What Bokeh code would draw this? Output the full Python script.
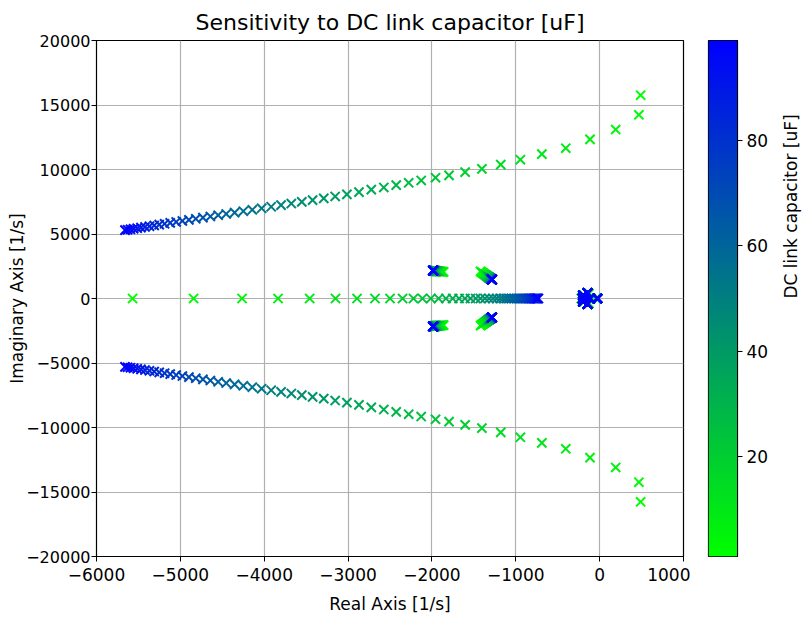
import math
import numpy as np
from bokeh.plotting import figure
from bokeh.models import (ColumnDataSource, LinearColorMapper, Range1d, FixedTicker)
from bokeh.layouts import row
from bokeh.transform import transform
from bokeh.embed import file_html
from bokeh.resources import INLINE

# ---------------- data ----------------
cap_uF = [1, 3, 5, 7, 9, 11, 13, 15, 17, 19, 21, 23, 25, 27, 29, 31, 33, 35, 37, 39,
          41, 43, 45, 47, 49, 51, 53, 55, 57, 59, 61, 63, 65, 67, 69, 71, 73, 75, 77, 79,
          81, 83, 85, 87, 89, 91, 93, 95, 97, 99]

# large complex pair (upper half; lower half is its conjugate)
upper_re = [489, 468, 191, -115, -404, -689, -945, -1179, -1404, -1604,
            -1796, -1957, -2128, -2277, -2426, -2574, -2723, -2870, -3014, -3154,
            -3290, -3423, -3552, -3677, -3799, -3917, -4031, -4142, -4249, -4353,
            -4453, -4549, -4642, -4731, -4816, -4898, -4976, -5050, -5121, -5188,
            -5252, -5312, -5368, -5421, -5470, -5515, -5557, -5595, -5629, -5660]
upper_im = [15761, 14239, 13096, 12335, 11650, 11193, 10761, 10381, 10051, 9797,
            9543, 9365, 9150, 8970, 8790, 8610, 8440, 8250, 8070, 7910,
            7764, 7626, 7492, 7362, 7235, 7112, 6994, 6878, 6767, 6659,
            6555, 6455, 6358, 6266, 6177, 6092, 6011, 5934, 5860, 5790,
            5724, 5662, 5603, 5548, 5497, 5450, 5407, 5367, 5332, 5300]

# real pole
real_re = [-5570, -4842, -4264, -3835, -3458, -3150, -2893, -2679, -2500, -2350,
           -2220, -2113, -2013, -1920, -1833, -1752, -1676, -1606, -1540, -1478,
           -1421, -1368, -1318, -1271, -1228, -1187, -1149, -1114, -1081, -1050,
           -1022, -995, -970, -947, -925, -905, -886, -868, -852, -837,
           -822, -809, -797, -785, -774, -764, -755, -746, -738, -730]

# complex pair near -2000 +/- j2100
pairA_re = [-1860, -1870, -1880, -1889, -1897, -1904, -1911, -1917, -1923, -1929,
            -1934, -1938, -1942, -1946, -1950, -1953, -1956, -1959, -1961, -1963,
            -1965, -1967, -1969, -1971, -1972, -1974, -1975, -1976, -1977, -1978,
            -1979, -1980, -1981, -1982, -1982, -1983, -1984, -1984, -1985, -1985,
            -1985, -1986, -1986, -1986, -1987, -1987, -1987, -1987, -1988, -1988]
pairA_im = [2060, 2068, 2075, 2082, 2088, 2094, 2099, 2104, 2109, 2113,
            2117, 2120, 2123, 2126, 2129, 2131, 2134, 2136, 2138, 2139,
            2141, 2143, 2144, 2145, 2146, 2148, 2149, 2149, 2150, 2151,
            2152, 2152, 2153, 2154, 2154, 2155, 2155, 2155, 2156, 2156,
            2156, 2157, 2157, 2157, 2157, 2158, 2158, 2158, 2158, 2158]

# complex pair near -1300 +/- j1800
pairB_re = [-1420, -1409, -1398, -1389, -1380, -1372, -1365, -1358, -1352, -1346,
            -1341, -1336, -1331, -1327, -1324, -1320, -1317, -1314, -1311, -1309,
            -1306, -1304, -1302, -1301, -1299, -1297, -1296, -1295, -1294, -1292,
            -1291, -1291, -1290, -1289, -1288, -1288, -1287, -1286, -1286, -1285,
            -1285, -1285, -1284, -1284, -1284, -1283, -1283, -1283, -1283, -1282]
pairB_im = [2100, 2048, 2000, 1956, 1916, 1878, 1844, 1813, 1784, 1757,
            1732, 1710, 1689, 1670, 1652, 1636, 1621, 1607, 1595, 1583,
            1573, 1563, 1554, 1545, 1538, 1531, 1524, 1518, 1513, 1508,
            1503, 1499, 1495, 1491, 1488, 1485, 1482, 1480, 1477, 1475,
            1473, 1471, 1470, 1468, 1467, 1465, 1464, 1463, 1462, 1461]

# slow poles near the origin
origin_r1 = [-215, -214, -213, -212, -211, -210, -209, -208, -208, -207,
             -207, -206, -206, -205, -205, -204, -204, -204, -203, -203,
             -203, -203, -202, -202, -202, -202, -202, -202, -201, -201,
             -201, -201, -201, -201, -201, -201, -201, -201, -201, -201,
             -200, -200, -200, -200, -200, -200, -200, -200, -200, -200]
origin_r2 = [-40, -39, -38, -37, -36, -35, -34, -33, -33, -32,
             -32, -31, -31, -30, -30, -29, -29, -29, -28, -28,
             -28, -28, -27, -27, -27, -27, -27, -27, -26, -26,
             -26, -26, -26, -26, -26, -26, -26, -26, -26, -26,
             -25, -25, -25, -25, -25, -25, -25, -25, -25, -25]
origin_r3 = [-105, -106, -107, -108, -109, -110, -110, -111, -111, -112,
             -112, -113, -113, -113, -114, -114, -114, -115, -115, -115,
             -115, -115, -116, -116, -116, -116, -116, -116, -117, -117,
             -117, -117, -117, -117, -117, -117, -117, -117, -118, -118,
             -118, -118, -118, -118, -118, -118, -118, -118, -118, -118]
origin_pair_re = [-130, -131, -132, -133, -134, -135, -136, -137, -137, -138,
                  -138, -139, -139, -140, -140, -141, -141, -141, -142, -142,
                  -142, -142, -143, -143, -143, -143, -143, -143, -144, -144,
                  -144, -144, -144, -144, -144, -144, -144, -144, -144, -144,
                  -145, -145, -145, -145, -145, -145, -145, -145, -145, -145]
origin_pair_im = [380, 383, 386, 389, 391, 394, 396, 398, 399, 401,
                  403, 404, 405, 406, 408, 409, 409, 410, 411, 412,
                  412, 413, 414, 414, 415, 415, 415, 416, 416, 416,
                  417, 417, 417, 417, 418, 418, 418, 418, 418, 418,
                  419, 419, 419, 419, 419, 419, 419, 419, 419, 419]
origin_pair2_re = [-185, -186, -187, -188, -189, -190, -190, -191, -191, -192,
                   -192, -193, -193, -193, -194, -194, -194, -195, -195, -195,
                   -195, -195, -196, -196, -196, -196, -196, -196, -197, -197,
                   -197, -197, -197, -197, -197, -197, -197, -197, -198, -198,
                   -198, -198, -198, -198, -198, -198, -198, -198, -198, -198]
origin_pair2_im = [210, 212, 214, 216, 218, 220, 221, 222, 223, 224,
                   225, 226, 227, 228, 229, 230, 230, 231, 231, 232,
                   232, 233, 233, 234, 234, 234, 235, 235, 235, 235,
                   236, 236, 236, 236, 236, 237, 237, 237, 237, 237,
                   237, 238, 238, 238, 238, 238, 238, 238, 238, 238]

x_ticks = [-6000, -5000, -4000, -3000, -2000, -1000, 0, 1000]
y_ticks = [-20000, -15000, -10000, -5000, 0, 5000, 10000, 15000, 20000]
cb_ticks = [20, 40, 60, 80]

# ---------------- build poles, ordered by capacitance ----------------
xs, ys, cs = [], [], []
for i, c in enumerate(cap_uF):
    poles = [(upper_re[i], upper_im[i]), (upper_re[i], -upper_im[i]),
             (real_re[i], 0.0),
             (pairA_re[i], pairA_im[i]), (pairA_re[i], -pairA_im[i]),
             (pairB_re[i], pairB_im[i]), (pairB_re[i], -pairB_im[i]),
             (origin_r1[i], 0.0), (origin_r2[i], 0.0), (origin_r3[i], 0.0),
             (origin_pair_re[i], origin_pair_im[i]), (origin_pair_re[i], -origin_pair_im[i]),
             (origin_pair2_re[i], origin_pair2_im[i]), (origin_pair2_re[i], -origin_pair2_im[i])]
    for (re, im) in poles:
        xs.append(re)
        ys.append(im)
        cs.append(c)
src = ColumnDataSource(dict(x=xs, y=ys, c=cs))

palette = ["#%02x%02x%02x" % (0, int(round(255 * (1 - t))), int(round(255 * t)))
           for t in np.linspace(0, 1, 256)]
c_lo, c_hi = min(cap_uF), max(cap_uF)
mapper = LinearColorMapper(palette=palette, low=c_lo, high=c_hi)

FONT = "DejaVu Sans"
TICK_FS = "17px"
LABEL_FS = "17px"

# ---------------- main figure ----------------
p = figure(width=690, height=620, x_range=Range1d(-6000, 1000), y_range=Range1d(-20000, 20000),
           output_backend="svg", toolbar_location=None,
           min_border_left=96, min_border_right=7, min_border_top=40, min_border_bottom=64,
           title="Sensitivity to DC link capacitor [uF]")
p.title.align = "center"
p.title.text_font = FONT
p.title.text_font_size = "22px"
p.title.text_font_style = "normal"
p.title.text_color = "black"
p.title.standoff = 12

p.scatter("x", "y", source=src, marker="x", size=13, line_width=2.0,
          line_color=transform("c", mapper))

p.xaxis.ticker = FixedTicker(ticks=x_ticks)
p.yaxis.ticker = FixedTicker(ticks=y_ticks)
p.xaxis.axis_label = "Real Axis [1/s]"
p.yaxis.axis_label = "Imaginary Axis [1/s]"
for ax in (p.xaxis, p.yaxis):
    ax.major_label_text_font = FONT
    ax.major_label_text_font_size = TICK_FS
    ax.major_label_text_color = "black"
    ax.axis_label_text_font = FONT
    ax.axis_label_text_font_size = LABEL_FS
    ax.axis_label_text_font_style = "normal"
    ax.axis_label_text_color = "black"
    ax.major_tick_in = 0
    ax.major_tick_out = 5
    ax.minor_tick_line_color = None
    ax.axis_line_color = "black"
    ax.major_tick_line_color = "black"
p.yaxis.major_label_text_font_size = "16px"
p.yaxis.major_label_standoff = 1
p.yaxis.axis_label_standoff = -4
p.xaxis.major_label_standoff = 6
p.xaxis.axis_label_standoff = 10
p.grid.grid_line_color = "#b0b0b0"
p.grid.grid_line_width = 1.2
p.outline_line_color = "black"
p.outline_line_width = 1.2
p.background_fill_color = "white"
p.border_fill_color = "white"

# ---------------- colorbar figure ----------------
cb = figure(frame_width=29, height=620, x_range=Range1d(0, 1), y_range=Range1d(c_lo, c_hi),
            output_backend="svg", toolbar_location=None, y_axis_location="right",
            min_border_left=18, min_border_right=0, min_border_top=40, min_border_bottom=64)
grad = np.linspace(c_lo, c_hi, 256).reshape(256, 1)
cb.image(image=[grad], x=0, y=c_lo, dw=1, dh=c_hi - c_lo, color_mapper=mapper)
cb.xaxis.visible = False
cb.grid.visible = False
cb.yaxis.ticker = FixedTicker(ticks=cb_ticks)
cb.yaxis.axis_label = "DC link capacitor [uF]"
cb.yaxis.major_label_text_font = FONT
cb.yaxis.major_label_text_font_size = TICK_FS
cb.yaxis.major_label_text_color = "black"
cb.yaxis.axis_label_text_font = FONT
cb.yaxis.axis_label_text_font_size = LABEL_FS
cb.yaxis.axis_label_text_font_style = "normal"
cb.yaxis.axis_label_text_color = "black"
cb.yaxis.major_tick_in = 0
cb.yaxis.major_tick_out = 5
cb.yaxis.major_label_standoff = 4
cb.yaxis.minor_tick_line_color = None
cb.yaxis.axis_line_color = "black"
cb.yaxis.major_tick_line_color = "black"
cb.yaxis.axis_label_standoff = 20
try:
    cb.yaxis.axis_label_orientation = math.pi / 2
except Exception:
    pass
cb.outline_line_color = "black"
cb.outline_line_width = 1.2
cb.border_fill_color = "white"

layout = row(p, cb)
open("out.html", "w").write(file_html(layout, INLINE))
